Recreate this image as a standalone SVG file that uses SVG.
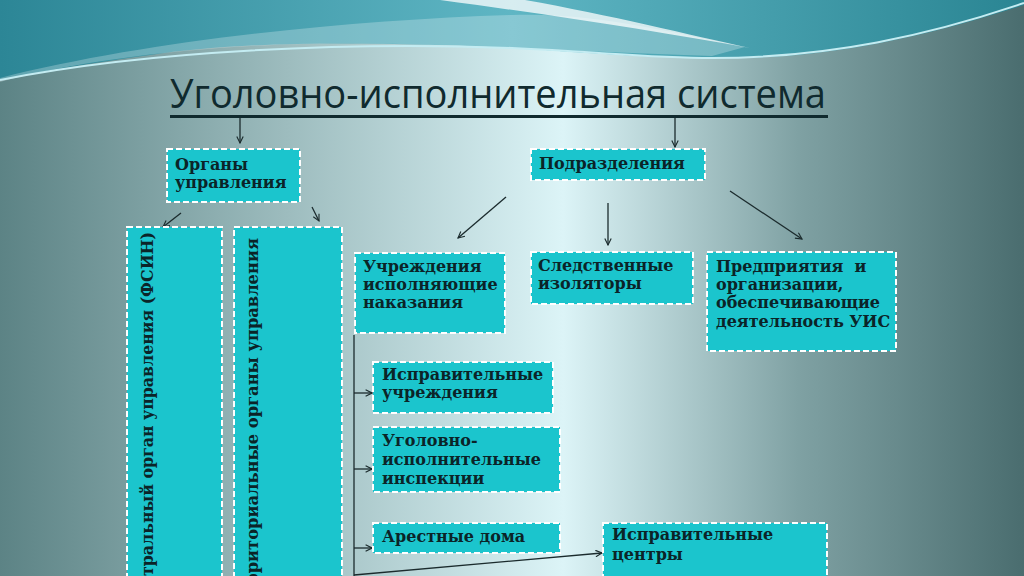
<svg xmlns="http://www.w3.org/2000/svg" width="1024" height="576" viewBox="0 0 1024 576">
<defs>
<linearGradient id="bg" x1="0" y1="0" x2="1" y2="0">
<stop offset="0" stop-color="#5c8385"/>
<stop offset="0.28" stop-color="#9dbcbe"/>
<stop offset="0.55" stop-color="#dcf4f7"/>
<stop offset="0.78" stop-color="#7fa1a3"/>
<stop offset="1" stop-color="#4a6d6f"/>
</linearGradient>
<linearGradient id="teal" x1="0" y1="0" x2="1" y2="0">
<stop offset="0" stop-color="#2c8696"/>
<stop offset="0.5" stop-color="#5fb6c4"/>
<stop offset="1" stop-color="#2a8593"/>
</linearGradient>
<marker id="ah" viewBox="0 0 10 10" refX="9" refY="5" markerWidth="8" markerHeight="8" orient="auto" markerUnits="userSpaceOnUse">
<polyline points="1,1 9,5 1,9" fill="none" stroke="#1b2b2d" stroke-width="1.4"/>
</marker>
</defs>
<style>
.box{fill:#1bc5cd;stroke:#ffffff;stroke-width:2;stroke-dasharray:6 3}
.t{font-family:"DejaVu Serif","Liberation Serif",serif;font-weight:bold;font-size:16px;fill:#0b2428}
.v{font-size:16.3px}
.v2{font-size:15.8px}
.c{stroke:#1b2b2d;stroke-width:1.3;fill:none}
.ca{stroke:#1b2b2d;stroke-width:1.3;fill:none;marker-end:url(#ah)}
</style>
<rect x="0" y="0" width="1024" height="576" fill="url(#bg)"/>
<path d="M0,0 H1024 V5 C930,35 830,60 712,58 C600,56 560,50 512,48 C380,42 250,40 150,55 C90,63 40,72 0,80 Z" fill="url(#teal)"/>
<path d="M0,78 C150,40 350,20 512,15 C600,12 680,35 745,47 L712,56 C600,52 520,48 400,44 C250,40 100,55 0,82 Z" fill="#ffffff" opacity="0.25"/>
<path d="M440,0 L525,0 C610,15 690,35 750,48 C660,32 560,16 440,0 Z" fill="#ffffff" opacity="0.75"/>
<path d="M0,80 C150,50 350,42 512,48 C600,52 650,58 712,58 C830,58 930,35 1024,3" fill="none" stroke="#c4ecf2" stroke-width="2"/>

<g id="title">
<text x="170" y="108" font-family="Open Sans, Liberation Sans, sans-serif" font-size="40" fill="#102a2e" textLength="656" lengthAdjust="spacingAndGlyphs">Уголовно-исполнительная система</text>
<line x1="170" y1="116.5" x2="828" y2="116.5" stroke="#102a2e" stroke-width="3"/>
</g>

<g id="connectors">
<line class="ca" x1="240" y1="118" x2="240" y2="143"/>
<line class="ca" x1="675" y1="118" x2="675" y2="147"/>
<line class="ca" x1="181" y1="213" x2="163" y2="227"/>
<line class="ca" x1="312" y1="207" x2="319" y2="221"/>
<line class="ca" x1="506" y1="197" x2="458" y2="238"/>
<line class="ca" x1="608" y1="203" x2="608" y2="245"/>
<line class="ca" x1="730" y1="191" x2="802" y2="239"/>
<line class="c" x1="354" y1="335" x2="354" y2="576"/>
<line class="ca" x1="354" y1="393" x2="372" y2="393"/>
<line class="ca" x1="354" y1="469" x2="372" y2="469"/>
<line class="ca" x1="354" y1="548" x2="372" y2="548"/>
<line class="ca" x1="354" y1="575" x2="602" y2="553"/>
</g>

<g id="organy">
<rect class="box" x="167" y="149" width="133" height="53"/>
<text class="t" x="175" y="170">Органы</text>
<text class="t" x="175" y="188">управления</text>
</g>
<g id="podrazdeleniya">
<rect class="box" x="531" y="149" width="174" height="31"/>
<text class="t" x="539" y="169">Подразделения</text>
</g>
<g id="fsin">
<rect class="box" x="127" y="227" width="95" height="360"/>
<text class="t v2" text-anchor="end" transform="translate(153,232) rotate(-90)">Центральный орган управления (ФСИН)</text>
</g>
<g id="territorial">
<rect class="box" x="234" y="227" width="108" height="360"/>
<text class="t v" text-anchor="end" transform="translate(258,238) rotate(-90)">Территориальные органы управления</text>
</g>
<g id="uchrezhdeniya">
<rect class="box" x="355" y="253" width="150" height="80"/>
<text class="t" x="363" y="272">Учреждения</text>
<text class="t" x="363" y="290">исполняющие</text>
<text class="t" x="363" y="308">наказания</text>
</g>
<g id="sizo">
<rect class="box" x="531" y="252" width="162" height="52"/>
<text class="t" x="538" y="271">Следственные</text>
<text class="t" x="538" y="289">изоляторы</text>
</g>
<g id="predpriyatiya">
<rect class="box" x="707" y="252" width="189" height="99"/>
<text class="t" x="716" y="272" xml:space="preserve">Предприятия  и</text>
<text class="t" x="716" y="290">организации,</text>
<text class="t" x="716" y="308">обеспечивающие</text>
<text class="t" x="716" y="327">деятельность УИС</text>
</g>
<g id="ispr-uchr">
<rect class="box" x="373" y="362" width="180" height="51"/>
<text class="t" x="382" y="380">Исправительные</text>
<text class="t" x="382" y="398">учреждения</text>
</g>
<g id="inspekcii">
<rect class="box" x="373" y="427" width="187" height="65"/>
<text class="t" x="382" y="446">Уголовно-</text>
<text class="t" x="382" y="465">исполнительные</text>
<text class="t" x="382" y="484">инспекции</text>
</g>
<g id="arestnye">
<rect class="box" x="373" y="523" width="187" height="30"/>
<text class="t" x="382" y="542">Арестные дома</text>
</g>
<g id="ispr-centry">
<rect class="box" x="603" y="523" width="224" height="70"/>
<text class="t" x="612" y="540">Исправительные</text>
<text class="t" x="612" y="560">центры</text>
</g>
</svg>
